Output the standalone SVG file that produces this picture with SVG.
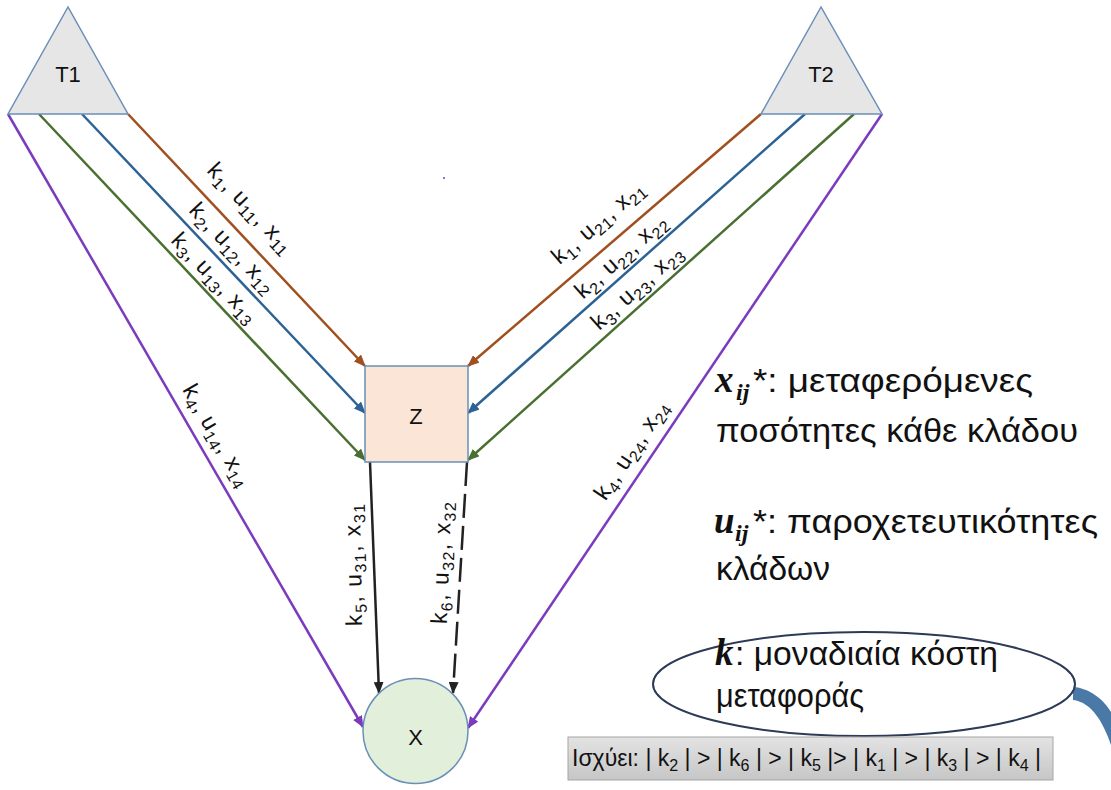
<svg xmlns="http://www.w3.org/2000/svg" width="1111" height="790" viewBox="0 0 1111 790">
<style>
.node{stroke:#6a8fb8;stroke-width:1.5}
.nl{font-family:"Liberation Sans",Arial,sans-serif;font-size:22px;fill:#111;text-anchor:middle}
.lab{font-family:"Liberation Sans",Arial,sans-serif;font-size:23px;fill:#111;text-anchor:middle}
.sub{font-size:16px}
.leg{font-family:"Liberation Sans",Arial,sans-serif;font-size:33px;fill:#111}
.math{font-family:"Liberation Serif","Times New Roman",serif;font-weight:bold;font-style:italic;font-size:37px;fill:#111}
.msub{font-family:"Liberation Serif","Times New Roman",serif;font-weight:bold;font-style:italic;font-size:24px;fill:#111}
.box{font-family:"Liberation Sans",Arial,sans-serif;font-size:23px;fill:#111}
.bsub{font-size:16px}
.c{fill:none;stroke-width:2.5}
</style>
<defs>
<marker id="aBr" markerUnits="userSpaceOnUse" markerWidth="12" markerHeight="10" refX="11" refY="5" orient="auto"><path d="M0,0 L12,5 L0,10 z" fill="#a0501e"/></marker>
<marker id="aBl" markerUnits="userSpaceOnUse" markerWidth="12" markerHeight="10" refX="11" refY="5" orient="auto"><path d="M0,0 L12,5 L0,10 z" fill="#2d6394"/></marker>
<marker id="aGr" markerUnits="userSpaceOnUse" markerWidth="12" markerHeight="10" refX="11" refY="5" orient="auto"><path d="M0,0 L12,5 L0,10 z" fill="#4a7031"/></marker>
<marker id="aPu" markerUnits="userSpaceOnUse" markerWidth="12" markerHeight="10" refX="11" refY="5" orient="auto"><path d="M0,0 L12,5 L0,10 z" fill="#7b3bbd"/></marker>
<marker id="aBk" markerUnits="userSpaceOnUse" markerWidth="12" markerHeight="10" refX="11" refY="5" orient="auto"><path d="M0,0 L12,5 L0,10 z" fill="#222"/></marker>
<linearGradient id="gbox" x1="0" y1="0" x2="0" y2="1"><stop offset="0" stop-color="#e3e3e3"/><stop offset="1" stop-color="#c6c6c6"/></linearGradient>
</defs>
<rect width="1111" height="790" fill="#fff"/>

<g id="connectors">
<line class="c" x1="128" y1="114" x2="365" y2="366" stroke="#a0501e" marker-end="url(#aBr)"/>
<line class="c" x1="82" y1="114" x2="365" y2="413" stroke="#2d6394" marker-end="url(#aBl)"/>
<line class="c" x1="39" y1="114" x2="365" y2="460" stroke="#4a7031" marker-end="url(#aGr)"/>
<line class="c" x1="8" y1="114" x2="363" y2="727" stroke="#7b3bbd" marker-end="url(#aPu)"/>
<line class="c" x1="761" y1="114" x2="468" y2="366" stroke="#a0501e" marker-end="url(#aBr)"/>
<line class="c" x1="805" y1="114" x2="468" y2="413" stroke="#2d6394" marker-end="url(#aBl)"/>
<line class="c" x1="854" y1="114" x2="468" y2="460" stroke="#4a7031" marker-end="url(#aGr)"/>
<line class="c" x1="882" y1="114" x2="468" y2="728" stroke="#7b3bbd" marker-end="url(#aPu)"/>
<line class="c" x1="370" y1="462" x2="379" y2="693" stroke="#222" stroke-width="2" marker-end="url(#aBk)"/>
<line class="c" x1="467" y1="462" x2="453" y2="693" stroke="#222" stroke-width="2" stroke-dasharray="24 8" marker-end="url(#aBk)"/>

<text class="lab" transform="translate(248,210) rotate(46.8)" y="4" textLength="114">k<tspan class="sub" dy="5">1</tspan><tspan dy="-5">, u</tspan><tspan class="sub" dy="5">11</tspan><tspan dy="-5">, x</tspan><tspan class="sub" dy="5">11</tspan></text>
<text class="lab" transform="translate(230,250) rotate(46.6)" y="4" textLength="114">k<tspan class="sub" dy="5">2</tspan><tspan dy="-5">, u</tspan><tspan class="sub" dy="5">12</tspan><tspan dy="-5">, x</tspan><tspan class="sub" dy="5">12</tspan></text>
<text class="lab" transform="translate(212,280) rotate(46.7)" y="4" textLength="114">k<tspan class="sub" dy="5">3</tspan><tspan dy="-5">, u</tspan><tspan class="sub" dy="5">13</tspan><tspan dy="-5">, x</tspan><tspan class="sub" dy="5">13</tspan></text>
<text class="lab" transform="translate(214,437) rotate(59.9)" y="4" textLength="114">k<tspan class="sub" dy="5">4</tspan><tspan dy="-5">, u</tspan><tspan class="sub" dy="5">14</tspan><tspan dy="-5">, x</tspan><tspan class="sub" dy="5">14</tspan></text>
<text class="lab" transform="translate(600,225) rotate(-40.7)" y="4" textLength="114">k<tspan class="sub" dy="5">1</tspan><tspan dy="-5">, u</tspan><tspan class="sub" dy="5">21</tspan><tspan dy="-5">, x</tspan><tspan class="sub" dy="5">21</tspan></text>
<text class="lab" transform="translate(623,259) rotate(-41.6)" y="4" textLength="114">k<tspan class="sub" dy="5">2</tspan><tspan dy="-5">, u</tspan><tspan class="sub" dy="5">22</tspan><tspan dy="-5">, x</tspan><tspan class="sub" dy="5">22</tspan></text>
<text class="lab" transform="translate(639,290) rotate(-41.9)" y="4" textLength="114">k<tspan class="sub" dy="5">3</tspan><tspan dy="-5">, u</tspan><tspan class="sub" dy="5">23</tspan><tspan dy="-5">, x</tspan><tspan class="sub" dy="5">23</tspan></text>
<text class="lab" transform="translate(634,452) rotate(-56)" y="4" textLength="114">k<tspan class="sub" dy="5">4</tspan><tspan dy="-5">, u</tspan><tspan class="sub" dy="5">24</tspan><tspan dy="-5">, x</tspan><tspan class="sub" dy="5">24</tspan></text>
<text class="lab" transform="translate(355,565) rotate(-91)" y="6" textLength="122">k<tspan class="sub" dy="5">5</tspan><tspan dy="-5">, u</tspan><tspan class="sub" dy="5">31</tspan><tspan dy="-5">, x</tspan><tspan class="sub" dy="5">31</tspan></text>
<text class="lab" transform="translate(443,563) rotate(-88)" y="6" textLength="122">k<tspan class="sub" dy="5">6</tspan><tspan dy="-5">, u</tspan><tspan class="sub" dy="5">32</tspan><tspan dy="-5">, x</tspan><tspan class="sub" dy="5">32</tspan></text>
</g>

<g id="T1">
<polygon class="node" points="68,7 8,114 128,114" fill="#e6e6e6"/>
<text class="nl" x="68" y="82">T1</text>
</g>
<g id="T2">
<polygon class="node" points="821,7 761,114 882,114" fill="#e6e6e6"/>
<text class="nl" x="821" y="82">T2</text>
</g>
<g id="Z">
<rect class="node" x="365" y="366" width="103" height="96" fill="#fbe5d6"/>
<text class="nl" x="416" y="424">Z</text>
</g>
<g id="X">
<circle class="node" cx="415.5" cy="731" r="52.5" fill="#e2efda"/>
<text class="nl" x="415.5" y="745">X</text>
</g>

<circle cx="444" cy="178" r="1" fill="#3a5fcd"/>

<g id="legend">
<text class="math" x="715" y="392">x</text>
<text class="msub" x="736" y="400">ij</text>
<text class="leg" x="753" y="392" textLength="280" lengthAdjust="spacingAndGlyphs">*: μεταφερόμενες</text>
<text class="leg" x="716" y="442" textLength="362" lengthAdjust="spacingAndGlyphs">ποσότητες κάθε κλάδου</text>
<text class="math" x="714" y="533">u</text>
<text class="msub" x="735" y="541">ij</text>
<text class="leg" x="753" y="533" textLength="345" lengthAdjust="spacingAndGlyphs">*: παροχετευτικότητες</text>
<text class="leg" x="716" y="580" textLength="114" lengthAdjust="spacingAndGlyphs">κλάδων</text>
</g>

<g id="note">
<path d="M1073,687 C1090,688 1104,700 1111,712 L1111,745 C1104,724 1092,702 1073,700 z" fill="#4a79a8"/>
<ellipse cx="864" cy="684" rx="211" ry="52" fill="#fff" stroke="#2c3a55" stroke-width="2"/>
<text class="math" x="715" y="665">k</text>
<text class="leg" x="735" y="665" textLength="263" lengthAdjust="spacingAndGlyphs">: μοναδιαία κόστη</text>
<text class="leg" x="716" y="707" textLength="148" lengthAdjust="spacingAndGlyphs">μεταφοράς</text>
</g>

<g id="condition">
<rect x="568" y="737" width="485" height="43" fill="url(#gbox)" stroke="#a6a6a6" stroke-width="1"/>
<text class="box" x="572" y="766">Ισχύει: | k<tspan class="bsub" dy="5">2</tspan><tspan dy="-5"> | &gt; | k</tspan><tspan class="bsub" dy="5">6</tspan><tspan dy="-5"> | &gt; | k</tspan><tspan class="bsub" dy="5">5</tspan><tspan dy="-5"> |&gt; | k</tspan><tspan class="bsub" dy="5">1</tspan><tspan dy="-5"> | &gt; | k</tspan><tspan class="bsub" dy="5">3</tspan><tspan dy="-5"> | &gt; | k</tspan><tspan class="bsub" dy="5">4</tspan><tspan dy="-5"> |</tspan></text>
</g>
</svg>
